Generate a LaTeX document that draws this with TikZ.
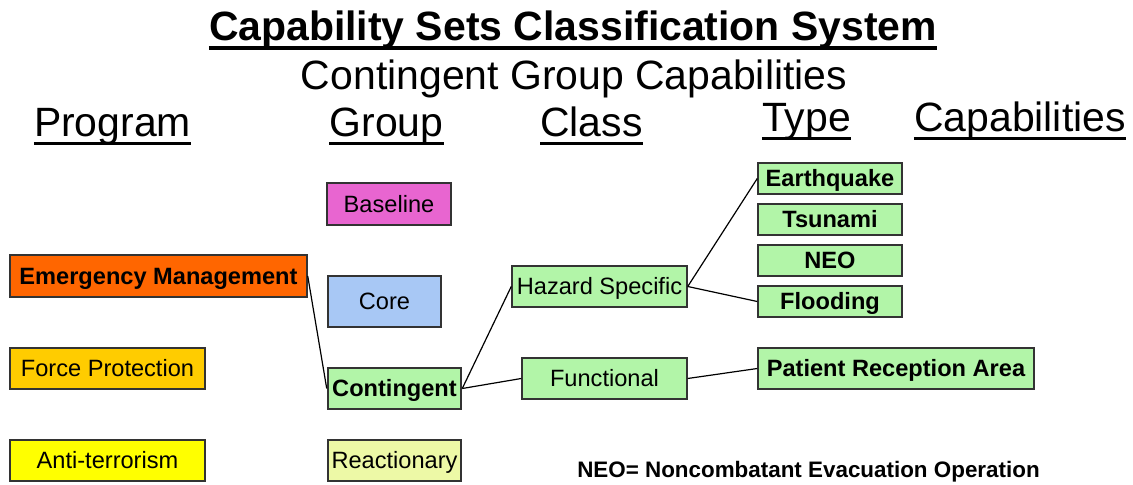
\documentclass[tikz,border=0pt]{standalone}
\usepackage{fontspec}
\setmainfont{Liberation Sans}
\newlength\pxu
\setlength\pxu{0.75pt}
\definecolor{emorange}{HTML}{FF6600}
\definecolor{fpgold}{HTML}{FFCC00}
\definecolor{atyellow}{HTML}{FFFF00}
\definecolor{basepink}{HTML}{E865D0}
\definecolor{coreblue}{HTML}{A8C8F5}
\definecolor{boxgreen}{HTML}{B2F5A8}
\definecolor{reactyellow}{HTML}{EDF9A6}
\definecolor{edgegray}{HTML}{333333}
\tikzset{
  box/.style={draw=edgegray, line width=1.1pt, inner sep=0pt, text height=16pt, text depth=3.3pt, font=\fontsize{17.7}{20}\selectfont, text=black},
  boldbox/.style={box, font=\fontsize{17.7}{20}\selectfont\bfseries},
  header/.style={inner sep=0pt, anchor=base, font=\fontsize{30.7}{34}\selectfont},
  link/.style={line width=0.9pt, black},
  uline/.style={line width=2pt, black}
}
\begin{document}
\begin{tikzpicture}[x=0.75pt, y=-0.75pt]
\useasboundingbox (0,0) rectangle (1133,485);
% titles
\node[header, font=\fontsize{30.7}{34}\selectfont\bfseries] (title) at (573,41) {Capability Sets Classification System};
\draw[line width=2.4pt] ([yshift=-5.2pt]title.base west) -- ([yshift=-5.2pt]title.base east);
\node[header] (sub) at (574,90) {Contingent Group Capabilities};
% column headers
\node[header] (hprog) at (112.5,137) {Program};
\node[header] (hgroup) at (386.5,137) {Group};
\node[header] (hclass) at (591.5,137) {Class};
\node[header] (htype) at (806.5,132) {Type};
\node[header] (hcap) at (1020,132) {Capabilities};
\foreach \h in {hprog,hgroup,hclass,htype,hcap}
  \draw[uline] ([yshift=-5pt]\h.base west) -- ([yshift=-5pt]\h.base east);
% program boxes
\node[boldbox, fill=emorange, minimum width=297\pxu, minimum height=42\pxu] (em) at (158.5,276) {Emergency Management};
\node[box, fill=fpgold, minimum width=195\pxu, minimum height=41\pxu] (fp) at (107.5,368.5) {Force Protection};
\node[box, fill=atyellow, minimum width=195\pxu, minimum height=41\pxu] (at) at (107.5,460.5) {Anti-terrorism};
% group boxes
\node[box, fill=basepink, minimum width=124\pxu, minimum height=42\pxu] (base) at (389,204) {Baseline};
\node[box, fill=coreblue, minimum width=113\pxu, minimum height=51\pxu] (core) at (384.5,301.5) {Core};
\node[boldbox, fill=boxgreen, line width=1.9pt, minimum width=133\pxu, minimum height=41\pxu] (cont) at (394.5,388.5) {Contingent};
\node[box, fill=reactyellow, minimum width=133\pxu, minimum height=41\pxu] (react) at (394.5,460.5) {Reactionary};
% class boxes
\node[box, fill=boxgreen, minimum width=175\pxu, minimum height=41\pxu] (haz) at (599.5,286.5) {Hazard Specific};
\node[box, fill=boxgreen, minimum width=165\pxu, minimum height=41\pxu] (func) at (604.5,378.5) {Functional};
% type boxes
\node[boldbox, fill=boxgreen, minimum width=144\pxu, minimum height=31\pxu] (eq) at (830,178.5) {Earthquake};
\node[boldbox, fill=boxgreen, minimum width=144\pxu, minimum height=31\pxu] (tsu) at (830,219.5) {Tsunami};
\node[boldbox, fill=boxgreen, minimum width=144\pxu, minimum height=31\pxu] (neo) at (830,260.5) {NEO};
\node[boldbox, fill=boxgreen, minimum width=144\pxu, minimum height=31\pxu] (flood) at (830,301.5) {Flooding};
\node[boldbox, fill=boxgreen, minimum width=276\pxu, minimum height=41\pxu] (pra) at (896,368.5) {Patient Reception Area};
% connectors
\draw[link] (em.east) -- (cont.west);
\draw[link] (cont.east) -- (haz.west);
\draw[link] (cont.east) -- (func.west);
\draw[link] (haz.east) -- (eq.west);
\draw[link] (haz.east) -- (flood.west);
\draw[link] (func.east) -- (pra.west);
% footnote
\node[inner sep=0pt, anchor=base, font=\fontsize{16.8}{19}\selectfont\bfseries] (note) at (808.5,477) {NEO= Noncombatant Evacuation Operation};
\end{tikzpicture}
\end{document}
